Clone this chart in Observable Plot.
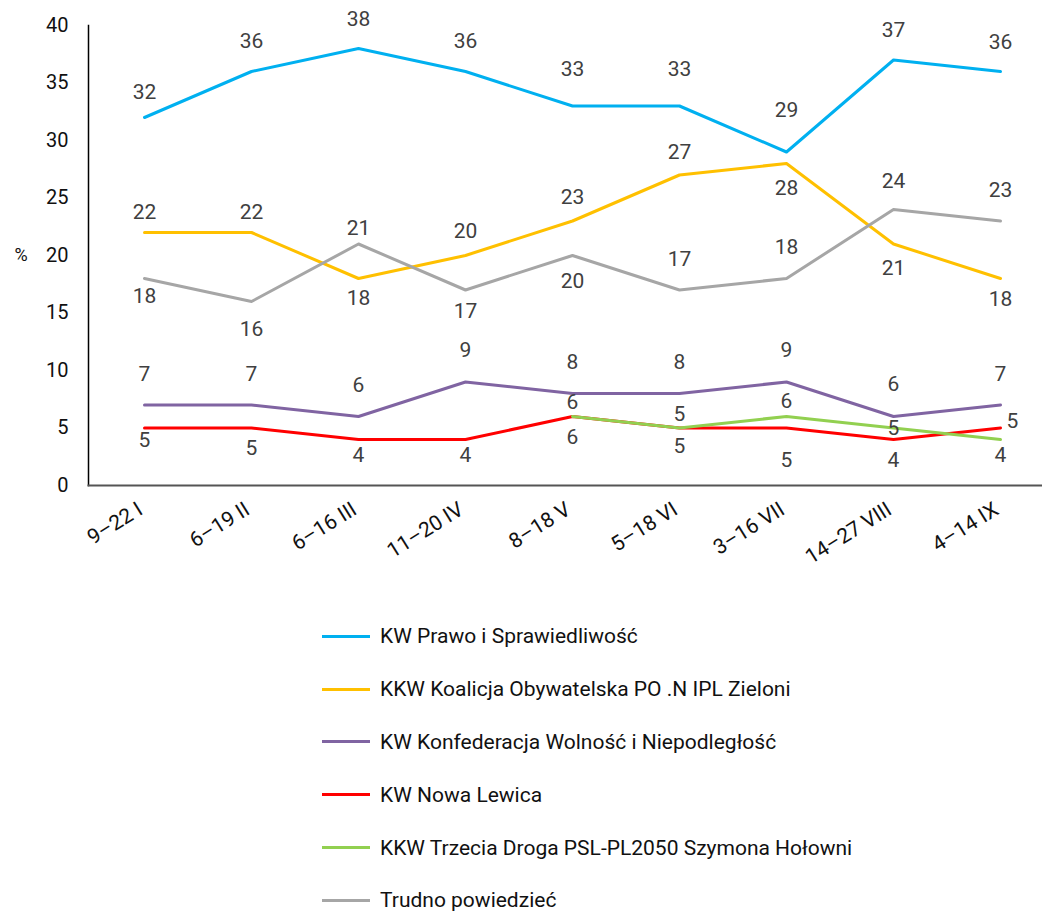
<!DOCTYPE html>
<html>
<head>
<meta charset="utf-8">
<script src="https://cdn.jsdelivr.net/npm/d3@7"></script>
<script src="https://cdn.jsdelivr.net/npm/@observablehq/plot@0.6"></script>
<style>
  body { margin: 0; background: #fff; font-family: Roboto, sans-serif; }
  #chart svg { display: block; }
  #legend { margin-top: 20px; padding-left: 322px; }
  .row { height: 52.8px; display: flex; align-items: center; font-size: 21px; color: #111; }
  .sw { width: 48px; height: 3px; margin-right: 10px; }
</style>
</head>
<body>
<div id="chart"></div>
<div id="legend"></div>
<script>
const categories = ["9–22 I","6–19 II","6–16 III","11–20 IV","8–18 V","5–18 VI","3–16 VII","14–27 VIII","4–14 IX"];
const seriesNames = [
  "KW Prawo i Sprawiedliwość",
  "KKW Koalicja Obywatelska PO .N IPL Zieloni",
  "KW Konfederacja Wolność i Niepodległość",
  "KW Nowa Lewica",
  "KKW Trzecia Droga PSL-PL2050 Szymona Hołowni",
  "Trudno powiedzieć"
];
const pis = [32,36,38,36,33,33,29,37,36];
const ko = [22,22,18,20,23,27,28,21,18];
const konf = [7,7,6,9,8,8,9,6,7];
const lewica = [5,5,4,4,6,5,5,4,5];
const trzeciaDroga = [null,null,null,null,6,5,6,5,4];
const trudno = [18,16,21,17,20,17,18,24,23];
const yTicks = [0,5,10,15,20,25,30,35,40];
const colors = ["#00B0F0","#FFC000","#8064A2","#FF0000","#92D050","#A6A6A6"];

// label placement (offsets from the point, in px)
const labelDy = [
  [-25,-30,-29,-30,-37,-37,-42,-30,-29],
  [-20,-20,20,-24,-24,-23,25,24,21],
  [-31,-31,-31,-32,-31,-31,-32,-32,-31],
  [12,20,16,16,21,18,32,21,-7],
  [0,0,0,0,-14,-14,-15,0,16],
  [18,28,-16,21,26,-31,-31,-28,-31]
];
const labelDx = [
  [0,0,0,0,0,0,0,0,0],
  [0,0,0,0,0,0,0,0,0],
  [0,0,0,0,0,0,0,0,0],
  [0,0,0,0,0,0,0,0,12],
  [0,0,0,0,0,0,0,0,0],
  [0,0,0,0,0,0,0,0,0]
];

const seriesValues = [pis, ko, konf, lewica, trzeciaDroga, trudno];
const data = [];
seriesValues.forEach((vals, si) => {
  vals.forEach((v, i) => {
    if (v != null) data.push({series: seriesNames[si], cat: categories[i], value: v, dx: labelDx[si][i], dy: labelDy[si][i]});
  });
});

const labelMarks = data.map(d => Plot.text([d], {
  x: "cat", y: "value", text: d => String(d.value),
  dx: d.dx, dy: d.dy, fill: "#404040", fontSize: 21
}));

const chart = Plot.plot({
  width: 1042,
  height: 590,
  marginLeft: 88,
  marginRight: 0,
  marginTop: 25,
  marginBottom: 105,
  style: {fontFamily: "Roboto, sans-serif", fontSize: "18px", color: "#111"},
  x: {type: "point", domain: categories, range: [143, 1001], padding: 0, label: null},
  y: {domain: [0, 40], label: null},
  color: {domain: seriesNames, range: colors},
  marks: [
    Plot.axisY({ticks: yTicks, tickSize: 0, tickPadding: 20, label: null, fontSize: 20}),
    Plot.axisX({tickRotate: -32, tickSize: 0, tickPadding: 22, dx: -4, label: null, fontSize: 21}),
    Plot.frame({anchor: "left", stroke: "#000", strokeWidth: 1.5}),
    Plot.frame({anchor: "bottom", stroke: "#555", strokeWidth: 2}),
    Plot.text(["%"], {frameAnchor: "left", dx: -74, textAnchor: "start", fontSize: 18, fill: "#111"}),
    Plot.line(data, {x: "cat", y: "value", z: "series", stroke: "series", strokeWidth: 3}),
    ...labelMarks
  ]
});
document.getElementById("chart").appendChild(chart);

const legend = document.getElementById("legend");
seriesNames.forEach((name, i) => {
  const row = document.createElement("div");
  row.className = "row";
  const sw = document.createElement("div");
  sw.className = "sw";
  sw.style.background = colors[i];
  const t = document.createElement("span");
  t.textContent = name;
  row.appendChild(sw);
  row.appendChild(t);
  legend.appendChild(row);
});
</script>
</body>
</html>
